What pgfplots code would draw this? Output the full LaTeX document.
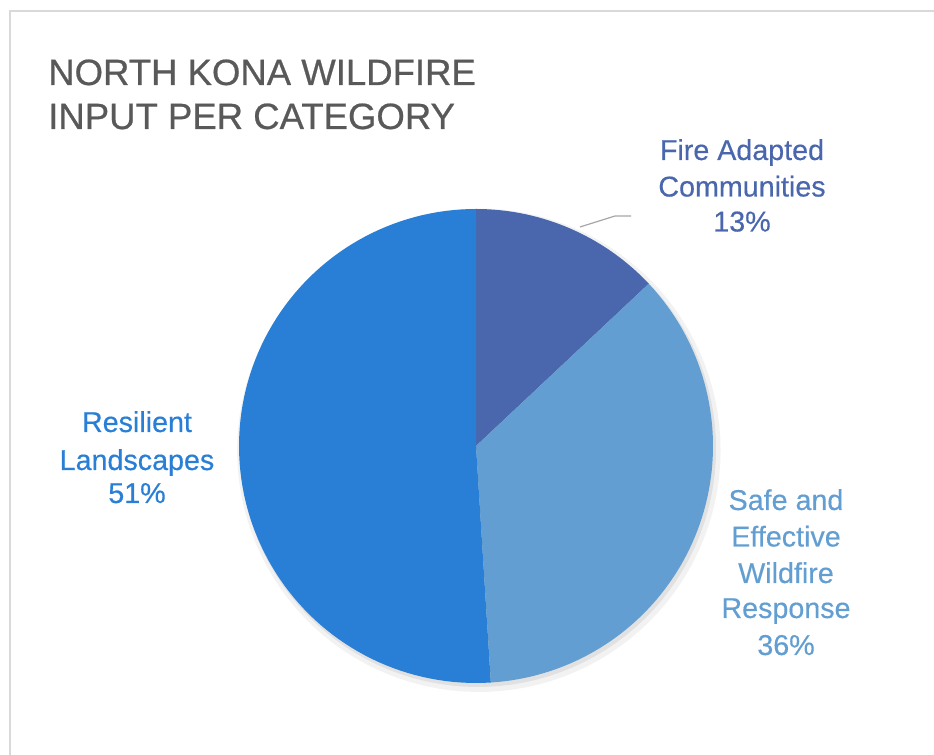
\documentclass[border=0pt]{standalone}
\usepackage{pgfplots}
\pgfplotsset{compat=1.18}
\usepackage{pgfplotstable}
\usepackage{fontspec}
\setmainfont{Liberation Sans}
\newfontfamily\titlefont[FakeBold=0.6]{Liberation Sans}
\newfontfamily\labfont[FakeBold=0.4]{Liberation Sans}
\definecolor{cA}{RGB}{74,103,173}
\definecolor{cB}{RGB}{98,158,209}
\definecolor{cC}{RGB}{41,127,213}
\definecolor{ctitle}{RGB}{89,89,89}
\definecolor{cframe}{RGB}{217,217,217}
\definecolor{clead}{RGB}{166,166,166}

\pgfplotstableread{
value
13
36
51
}\piedata

\begin{document}
\begin{tikzpicture}[x=0.75pt,y=0.75pt]
\useasboundingbox (0,0) rectangle (934,755);
% chart frame
\draw[cframe, line width=1.2pt] (10,0) -- (10,744) -- (934,744);

\pgfplotstablegetelem{0}{value}\of\piedata \let\va\pgfplotsretval
\pgfplotstablegetelem{1}{value}\of\piedata \let\vb\pgfplotsretval
\pgfplotstablegetelem{2}{value}\of\piedata \let\vc\pgfplotsretval
\pgfmathsetmacro{\aA}{90}
\pgfmathsetmacro{\aB}{\aA-3.6*\va}
\pgfmathsetmacro{\aC}{\aB-3.6*\vb}
\pgfmathsetmacro{\aD}{\aC-3.6*\vc}

\begin{axis}[at={(357pt,231.75pt)}, anchor=center, width=355.5pt, height=355.5pt,
  scale only axis, hide axis, xmin=-1, xmax=1, ymin=-1, ymax=1, clip=false]
% soft shadow
\addplot[draw=none, fill=black, opacity=0.05, domain=0:360, samples=120, variable=\t]
  ({0.012+1.02*cos(\t)},{-0.018+1.02*sin(\t)}) -- cycle;
\addplot[draw=none, fill=black, opacity=0.07, domain=0:360, samples=120, variable=\t]
  ({0.008+1.005*cos(\t)},{-0.012+1.005*sin(\t)}) -- cycle;
% slices
\addplot[draw=none, fill=cA, domain=\aB:\aA, samples=60, variable=\t]
  ({cos(\t)},{sin(\t)}) -- (0,0) -- cycle;
\addplot[draw=none, fill=cB, domain=\aC:\aB, samples=80, variable=\t]
  ({cos(\t)},{sin(\t)}) -- (0,0) -- cycle;
\addplot[draw=none, fill=cC, domain=\aD:\aC, samples=100, variable=\t]
  ({cos(\t)},{sin(\t)}) -- (0,0) -- cycle;
\end{axis}

% leader line
\draw[clead, line width=0.9pt] (580,528) -- (615,539) -- (631,539);

% title
\node[anchor=base west, text=ctitle, font=\titlefont\fontsize{27.4}{33}\selectfont, inner sep=0pt] at (48,670) {NORTH KONA WILDFIRE};
\node[anchor=base west, text=ctitle, font=\titlefont\fontsize{27.4}{33}\selectfont, inner sep=0pt] at (48,626) {INPUT PER CATEGORY};

% labels
\tikzset{lab/.style={anchor=base, inner sep=0pt, font=\labfont\fontsize{21.5}{26}\selectfont}}
\node[lab, text=cA] at (742,595) {Fire Adapted};
\node[lab, text=cA] at (742,558.5) {Communities};
\node[lab, text=cA] at (742,523.5) {13\%};

\node[lab, text=cB] at (786,245) {Safe and};
\node[lab, text=cB] at (786,208.5) {Effective};
\node[lab, text=cB] at (786,172) {Wildfire};
\node[lab, text=cB] at (786,137) {Response};
\node[lab, text=cB] at (786,100) {36\%};

\node[lab, text=cC] at (137,323) {Resilient};
\node[lab, text=cC] at (137,285) {Landscapes};
\node[lab, text=cC] at (137,252) {51\%};
\end{tikzpicture}
\end{document}
